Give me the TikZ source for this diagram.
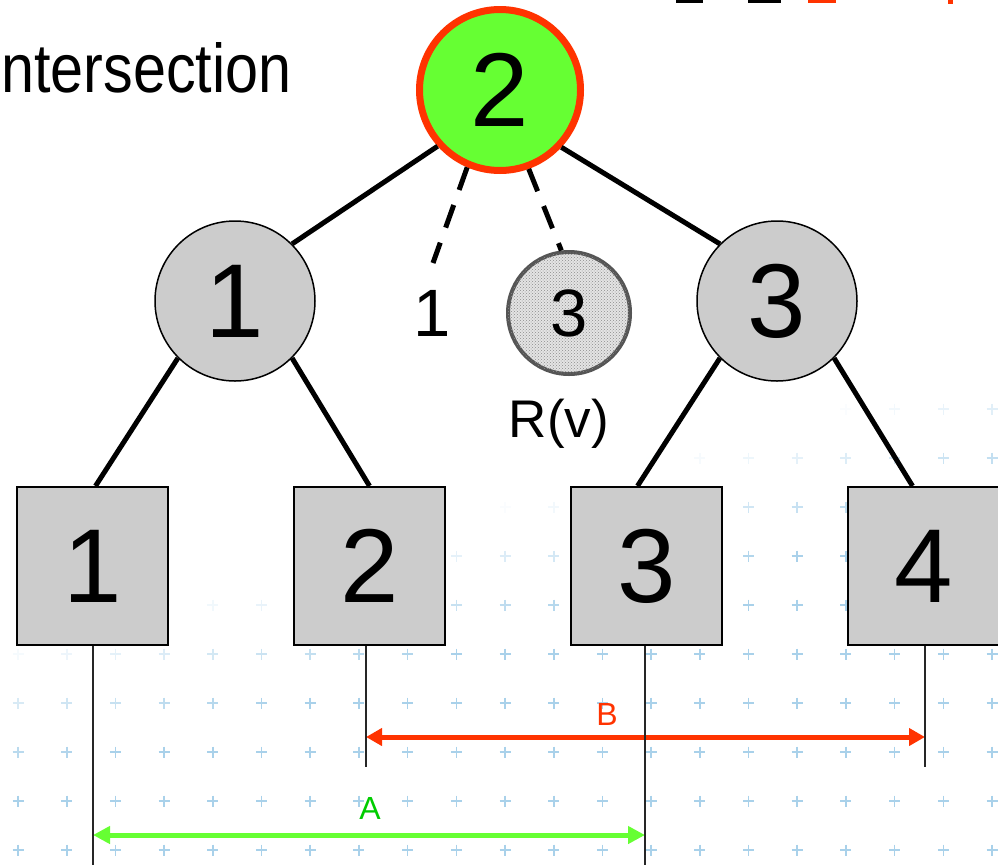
\documentclass[tikz,border=0pt]{standalone}
\usepackage{fontspec}
\setmainfont{Liberation Sans}
\usetikzlibrary{arrows.meta,patterns}
\definecolor{nodegray}{HTML}{CCCCCC}
\definecolor{rootgreen}{HTML}{66FF33}
\definecolor{rootred}{HTML}{FF3300}
\definecolor{labgreen}{HTML}{00CC00}
\definecolor{plusblue}{HTML}{A0CCE8}
\definecolor{ringgray}{HTML}{555555}
\definecolor{stipple}{HTML}{E4E4E4}
\begin{document}
\begin{tikzpicture}[x=1pt,y=-1pt,
  innernode/.style={circle, draw=black, line width=1.5pt, fill=nodegray, minimum size=160pt, inner sep=0pt, font=\fontsize{105}{105}\selectfont},
  rootnode/.style={circle, draw=rootred, line width=7pt, fill=rootgreen, minimum size=161pt, inner sep=0pt, font=\fontsize{105}{105}\selectfont},
  leafnode/.style={rectangle, draw=black, line width=2pt, fill=nodegray, minimum width=151pt, minimum height=158pt, inner sep=0pt, font=\fontsize{105}{105}\selectfont},
  smallnode/.style={circle, draw=ringgray, line width=4pt, fill=stipple, minimum size=122pt, inner sep=0pt, font=\fontsize{67}{67}\selectfont, postaction={pattern=crosshatch dots, pattern color=black!45}},
  midlabel/.style={inner sep=0pt, anchor=base, font=\fontsize{67}{67}\selectfont},
  rvlabel/.style={inner sep=0pt, anchor=base, font=\fontsize{53}{53}\selectfont},
  spanlabel/.style={inner sep=0pt, font=\fontsize{32}{32}\selectfont},
  treeedge/.style={line width=5pt, draw=black},
  dashedge/.style={line width=5pt, draw=black, dash pattern=on 24pt off 16pt},
  dropline/.style={line width=2.5pt, draw=black!85},
  spanB/.style={line width=5pt, draw=rootred, {Triangle[length=16pt,width=17pt]}-{Triangle[length=16pt,width=17pt]}},
  spanA/.style={line width=5pt, draw=rootgreen, {Triangle[length=17pt,width=17pt]}-{Triangle[length=17pt,width=17pt]}},
  plusmark/.style={line width=1.6pt, draw=plusblue}
]
\useasboundingbox (0,0) rectangle (998,865);

% background plus grid
\foreach \i in {0,...,20}{
  \foreach \j in {0,...,9}{
    \pgfmathsetmacro\px{18+48.7*\i}
    \pgfmathsetmacro\py{850-49*\j}
    \pgfmathsetmacro\op{min(0.9,max(0,(\px+3.5*\py-2250)/550))}
    \draw[plusmark, opacity=\op] (\px,\py) +(-5.5,0) -- +(5.5,0) +(0,-5.5) -- +(0,5.5);
  }
}

% top-right fragments
\fill[black] (676,0) rectangle (703,3);
\fill[black] (748,0) rectangle (781,3);
\fill[rootred] (808,0) rectangle (836,3);
\fill[rootred] (948,0) rectangle (953,4);

% title fragment
\node[inner sep=0pt, anchor=base west, font=\fontsize{69}{69}\selectfont] (title) at (1,92) {\scalebox{0.86}[1]{ntersection}};

% nodes
\node[rootnode] (root) at (500,90) {2};
\node[innernode] (n1) at (235,301) {1};
\node[innernode] (n3) at (777,301) {3};
\node[smallnode] (sm) at (569,313) {3};
\node[midlabel] (l1) at (432,336) {1};
\node[rvlabel] (rv) at (559,437) {R(v)};

\node[leafnode] (b1) at (92.5,566) {1};
\node[leafnode] (b2) at (369.5,566) {2};
\node[leafnode] (b3) at (646.5,566) {3};
\node[leafnode] (b4) at (923.5,566) {4};

\coordinate (d1) at (433,263);

% tree edges
\draw[treeedge] (root.222) -- (n1.45);
\draw[treeedge] (root.317) -- (n3.135);
\draw[dashedge] (root.247) -- (d1);
\draw[dashedge] (root.290) -- (sm.97);
\draw[treeedge] (n1.225) -- ([xshift=3pt]b1.north);
\draw[treeedge] (n1.315) -- (b2.north);
\draw[treeedge] (n3.225) -- ([xshift=-9pt]b3.north);
\draw[treeedge] (n3.315) -- ([xshift=-11pt]b4.north);

% span arrows
\coordinate (e1) at (93,865);
\coordinate (e2) at (366,767);
\coordinate (e3) at (645,865);
\coordinate (e4) at (925,767);
\coordinate (bl) at (366,737);
\coordinate (br) at (925,737);
\coordinate (al) at (93,835);
\coordinate (ar) at (645,835);

\draw[spanB] (bl) -- (br);
\draw[spanA] (al) -- (ar);
\node[spanlabel, text=rootred] (labB) at (607,714) {B};
\node[spanlabel, text=labgreen] (labA) at (370,808) {A};

% drop lines
\draw[dropline] (e1 |- b1.south) -- (e1);
\draw[dropline] (e2 |- b2.south) -- (e2);
\draw[dropline] (e3 |- b3.south) -- (e3);
\draw[dropline] (e4 |- b4.south) -- (e4);
\end{tikzpicture}
\end{document}
